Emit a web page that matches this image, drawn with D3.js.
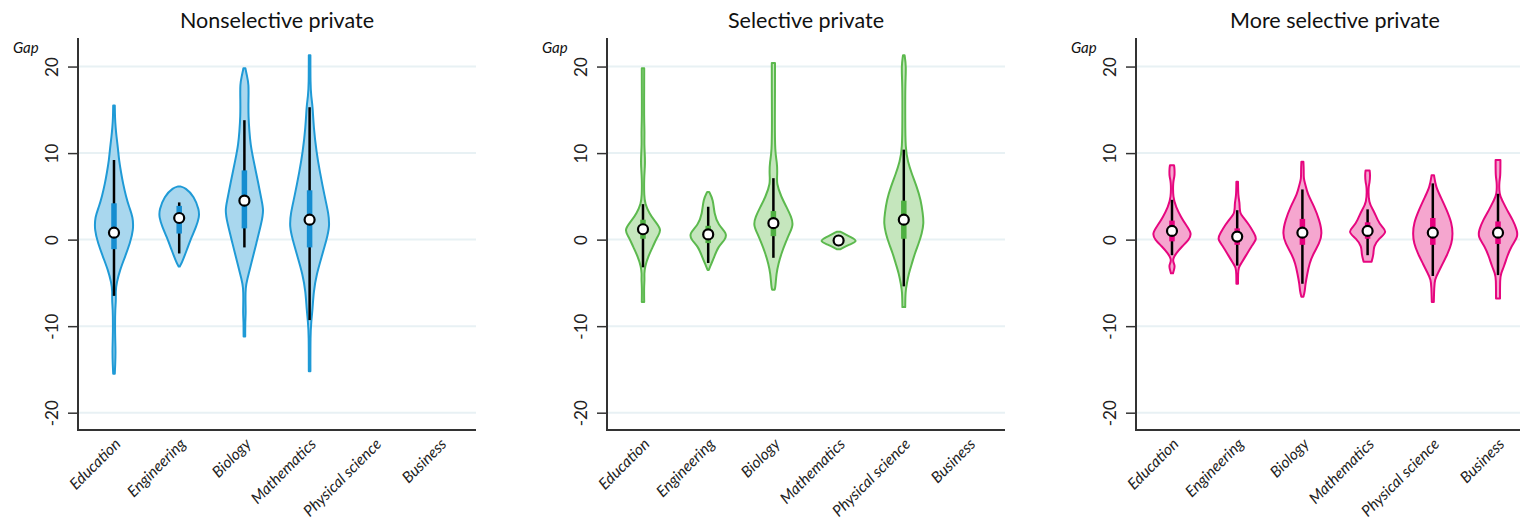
<!DOCTYPE html>
<html><head><meta charset="utf-8">
<script src="https://cdn.jsdelivr.net/npm/d3@7"></script>
<style>body{margin:0;background:#fff}svg{display:block}</style>
</head><body><svg id="chart" width="1520" height="522"></svg>
<script>
// ---------- data ----------
const categories = ["Education","Engineering","Biology","Mathematics","Physical science","Business"];
const panelTitles = ["Nonselective private","Selective private","More selective private"];
const yTicks = [-20,-10,0,10,20];

// violin profiles: [gap, relative density]
const nsEducation = [[15.5,0.04],[14,0.05],[13,0.08],[12,0.12],[10.5,0.2],[9.2,0.25],[7.8,0.35],[6.5,0.45],[5,0.6],[3.8,0.75],[2.6,0.95],[1.1,0.97],[-0.4,0.8],[-2,0.55],[-3.5,0.3],[-5,0.13],[-6,0.08],[-7,0.1],[-8,0.06],[-10,0.05],[-11.5,0.06],[-13,0.08],[-14.5,0.06],[-15.5,0.04]];
const nsEngineering = [[6.15,0.05],[6.0,0.3],[5.0,0.75],[3.4,1.0],[2.6,1.0],[1.5,0.85],[0.3,0.62],[-1.2,0.38],[-2.7,0.13],[-3.1,0.03]];
const nsBiology = [[19.8,0.05],[19,0.12],[18,0.22],[16,0.2],[14.2,0.2],[12.5,0.25],[11.1,0.3],[9.2,0.45],[6.5,0.7],[4.6,0.85],[3.4,0.97],[1.9,0.85],[-0.4,0.6],[-2.7,0.35],[-4.7,0.13],[-5.5,0.06],[-7,0.05],[-8.5,0.07],[-9.5,0.04],[-11.2,0.04]];
const nsMathematics = [[21.3,0.04],[18,0.04],[16.5,0.08],[15.5,0.15],[13,0.2],[10,0.35],[8,0.5],[5,0.75],[3,0.95],[1.5,1.0],[0,0.85],[-2,0.6],[-4,0.35],[-6,0.2],[-8,0.15],[-9.5,0.08],[-11,0.04],[-15.2,0.04]];

const sEducation = [[19.8,0.06],[18,0.06],[14,0.05],[12.5,0.08],[11,0.06],[9.5,0.1],[8.5,0.1],[7,0.05],[5,0.06],[4.2,0.1],[3.1,0.3],[2.1,0.6],[1.1,0.95],[0.3,0.7],[-0.8,0.5],[-2,0.25],[-3.1,0.1],[-4,0.06],[-4.6,0.08],[-5.5,0.05],[-7.2,0.06]];
const sEngineering = [[5.5,0.05],[4.6,0.25],[3.0,0.3],[1.7,0.5],[0.7,0.95],[0,0.85],[-0.8,0.5],[-2,0.3],[-3.1,0.1],[-3.5,0.03]];
const sBiology = [[20.4,0.08],[17,0.08],[14,0.07],[10,0.08],[9,0.18],[7.5,0.2],[6.5,0.15],[4.9,0.4],[3.8,0.65],[2.6,0.9],[1.7,1.0],[0.7,0.8],[-0.4,0.6],[-1.6,0.4],[-2.8,0.25],[-3.9,0.15],[-5.5,0.1],[-5.8,0.06]];
const sMathematics = [[0.9,0.1],[0.3,0.6],[-0.17,1.0],[-0.6,0.5],[-1.1,0.1]];
const sPhysical = [[21.3,0.04],[20,0.12],[18,0.07],[14,0.07],[10.5,0.08],[9,0.2],[7.6,0.4],[6.1,0.65],[4.6,0.85],[3.0,0.95],[1.9,1.0],[0.7,0.9],[-0.4,0.75],[-1.6,0.55],[-2.8,0.4],[-3.9,0.25],[-5.1,0.15],[-6,0.08],[-7.8,0.07]];

const msEducation = [[8.6,0.1],[8.2,0.13],[7.2,0.13],[6.8,0.05],[4.8,0.05],[3.8,0.2],[2.6,0.45],[1.7,0.7],[0.7,1.0],[0,0.85],[-0.8,0.5],[-1.6,0.2],[-2.2,0.05],[-2.6,0.06],[-3.0,0.15],[-3.5,0.1],[-3.9,0.05]];
const msEngineering = [[6.7,0.04],[5,0.05],[4.3,0.12],[3.7,0.12],[3.0,0.15],[2.6,0.3],[1.7,0.6],[0.7,0.85],[0.1,1.0],[-0.8,0.7],[-1.8,0.45],[-2.75,0.2],[-3.2,0.07],[-4,0.04],[-5.1,0.04]];
const msBiology = [[9.0,0.05],[8,0.07],[7,0.06],[6.4,0.15],[5.3,0.25],[3.8,0.6],[2.25,0.85],[0.7,1.0],[-0.44,0.85],[-1.6,0.55],[-2.75,0.35],[-3.9,0.25],[-5.1,0.15],[-6,0.12],[-6.6,0.05]];
const msMathematics = [[8.0,0.1],[7.5,0.13],[6.5,0.1],[6.2,0.04],[4.2,0.05],[3.4,0.3],[2.25,0.5],[1.5,0.7],[0.9,1.0],[0.1,0.55],[-0.8,0.3],[-1.6,0.3],[-2.1,0.25],[-2.55,0.2]];
const msPhysical = [[7.45,0.06],[6.1,0.15],[4.9,0.4],[3.4,0.7],[1.9,0.95],[0.7,1.0],[-0.4,0.95],[-1.6,0.75],[-2.75,0.5],[-3.9,0.25],[-4.6,0.1],[-5.5,0.07],[-7.2,0.05]];
const msBusiness = [[9.2,0.12],[7.2,0.12],[6.8,0.06],[5.2,0.06],[4.6,0.2],[3.4,0.45],[2.25,0.75],[1.1,0.95],[0.3,1.0],[-0.8,0.65],[-2,0.45],[-3.1,0.3],[-3.9,0.15],[-4.5,0.1],[-6.8,0.1]];

// box statistics per category (null = no data)
const nsMedian = [0.8,2.5,4.5,2.3,null,null];
const nsQ1 = [-1.1,0.7,1.3,-0.9,null,null];
const nsQ3 = [4.2,3.9,8.0,5.7,null,null];
const nsLow = [-6.5,-1.6,-0.9,-9.3,null,null];
const nsHigh = [9.2,4.3,13.8,15.3,null,null];

const sMedian = [1.2,0.6,1.9,-0.1,2.3,null];
const sQ1 = [0.1,-0.4,0.4,-0.3,0.1,null];
const sQ3 = [2.3,1.6,3.3,0.2,4.5,null];
const sLow = [-3.2,-2.7,-2.1,-0.6,-5.4,null];
const sHigh = [4.1,3.8,7.1,0.4,10.4,null];

const msMedian = [1.0,0.35,0.8,1.0,0.8,0.8];
const msQ1 = [-0.2,-0.6,-0.6,0.1,-0.6,-0.5];
const msQ3 = [2.2,1.3,2.4,2.0,2.5,2.1];
const msLow = [-1.8,-3.0,-5.1,-1.8,-4.2,-4.1];
const msHigh = [4.6,3.4,5.8,3.5,6.5,5.3];

const panels = [
  {title: panelTitles[0], violins:[nsEducation,nsEngineering,nsBiology,nsMathematics,null,null],
   med:nsMedian,q1:nsQ1,q3:nsQ3,lo:nsLow,hi:nsHigh, stroke:"#1f9ad6", fill:"#a9d7ee", box:"#168dd0"},
  {title: panelTitles[1], violins:[sEducation,sEngineering,sBiology,sMathematics,sPhysical,null],
   med:sMedian,q1:sQ1,q3:sQ3,lo:sLow,hi:sHigh, stroke:"#5cb94e", fill:"#c5e6bd", box:"#4fb042"},
  {title: panelTitles[2], violins:[msEducation,msEngineering,msBiology,msMathematics,msPhysical,msBusiness],
   med:msMedian,q1:msQ1,q3:msQ3,lo:msLow,hi:msHigh, stroke:"#e6067f", fill:"#f5a6cf", box:"#e6007e"}
];

// ---------- layout ----------
const svg = d3.select("#chart");
const panelX = [78, 607, 1136];
const plotW = 398, plotTop = 38, plotBottom = 430;
const y = d3.scaleLinear().domain([-22, 23.3]).range([plotBottom, plotTop]);
const x = d3.scalePoint().domain(categories).range([0, plotW]).padding(0.552);
const w = d3.scaleLinear().domain([0, 1]).range([0, 20]);

panels.forEach((p, pi) => {
  const g = svg.append("g").attr("transform", `translate(${panelX[pi]},0)`);

  g.selectAll("line.grid").data(yTicks).join("line").attr("class", "grid")
    .attr("x1", 0).attr("x2", plotW).attr("y1", d => y(d)).attr("y2", d => y(d))
    .attr("stroke", "#e8f1f4").attr("stroke-width", 2);

  const ya = g.append("g").call(d3.axisLeft(y).tickValues(yTicks).tickSize(10).tickPadding(0).tickFormat(d => String(d)));
  ya.select(".domain").remove();
  ya.selectAll(".tick line").attr("stroke", "#333").attr("stroke-width", 1.5);
  ya.selectAll(".tick text").attr("transform", "rotate(-90)").attr("x", 0).attr("y", -20)
    .attr("text-anchor", "middle").attr("dy", 0)
    .style("font-family", "Lato, sans-serif").style("font-size", "17px").attr("fill", "#222");

  const xa = g.append("g").attr("transform", `translate(0,${plotBottom})`)
    .call(d3.axisBottom(x).tickSize(0).tickPadding(0));
  xa.select(".domain").remove();
  xa.selectAll(".tick text").attr("text-anchor", "end").attr("y", 0).attr("dy", 0)
    .attr("transform", "translate(7,15) rotate(-45)")
    .style("font-family", "Lato, sans-serif").style("font-style", "italic").style("font-size", "15.5px").attr("fill", "#222");

  g.append("line").attr("x1", 0).attr("x2", 0).attr("y1", plotTop).attr("y2", plotBottom + 1)
    .attr("stroke", "#333").attr("stroke-width", 2);
  g.append("line").attr("x1", -1).attr("x2", plotW).attr("y1", plotBottom).attr("y2", plotBottom)
    .attr("stroke", "#333").attr("stroke-width", 2);

  g.append("text").attr("x", plotW / 2).attr("y", 28).attr("text-anchor", "middle")
    .style("font-family", "Lato, sans-serif").style("font-size", "21.5px").attr("fill", "#111").text(p.title);
  g.append("text").attr("x", -65).attr("y", 53)
    .style("font-family", "Lato, sans-serif").style("font-style", "italic").style("font-size", "15px").attr("fill", "#111").text("Gap");

  categories.forEach((c, ci) => {
    const prof = p.violins[ci];
    if (!prof) return;
    const cx = x(c);
    const area = d3.area().curve(d3.curveBasis)
      .y(d => y(d[0])).x0(d => cx - w(d[1])).x1(d => cx + w(d[1]));
    g.append("path").attr("d", area(prof)).attr("fill", p.fill)
      .attr("stroke", p.stroke).attr("stroke-width", 2).attr("stroke-linejoin", "round");
    g.append("line").attr("x1", cx).attr("x2", cx).attr("y1", y(p.hi[ci])).attr("y2", y(p.lo[ci]))
      .attr("stroke", "#000").attr("stroke-width", 2.5);
    g.append("rect").attr("x", cx - 2.75).attr("width", 5.5)
      .attr("y", y(p.q3[ci])).attr("height", y(p.q1[ci]) - y(p.q3[ci])).attr("fill", p.box);
    g.append("circle").attr("cx", cx).attr("cy", y(p.med[ci])).attr("r", 5)
      .attr("fill", "#fff").attr("stroke", "#000").attr("stroke-width", 2.2);
  });
});
</script></body></html>
